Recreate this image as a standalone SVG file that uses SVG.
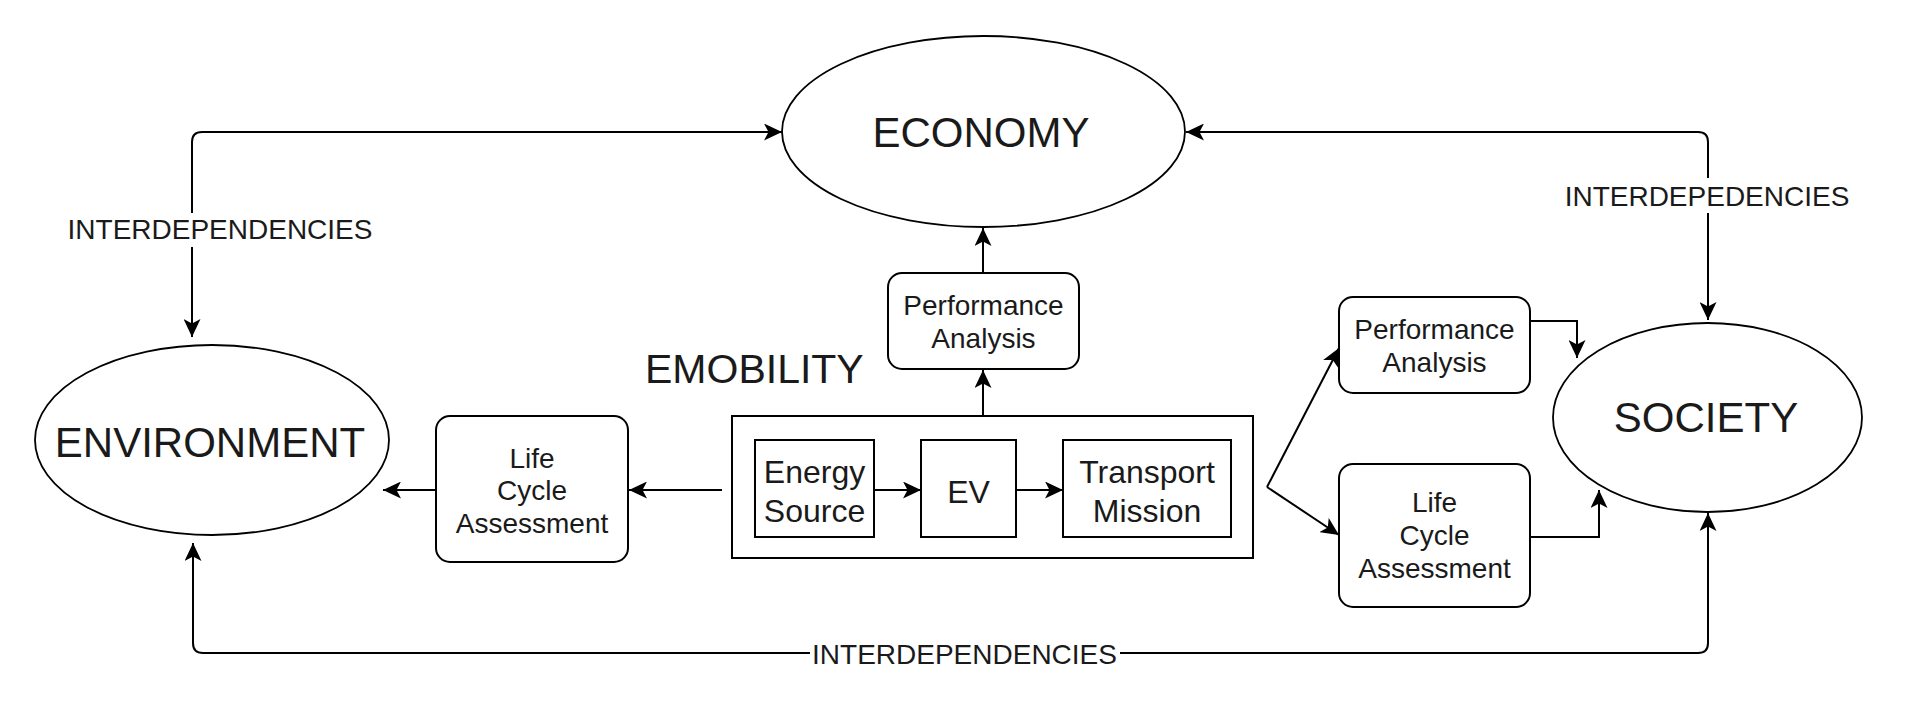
<svg xmlns="http://www.w3.org/2000/svg" width="1912" height="710" viewBox="0 0 1912 710">
<style>
  .shape { fill: #ffffff; stroke: #000000; stroke-width: 2; }
  .ell { fill: #ffffff; stroke: #000000; stroke-width: 1.8; }
  .edge { fill: none; stroke: #000000; stroke-width: 2; }
  text { font-family: "Liberation Sans", Arial, sans-serif; fill: #1a1a1a; text-anchor: middle; }
  .big { font-size: 42px; }
  .mid { font-size: 32px; }
  .sm { font-size: 28px; }
  .lblbg { fill: #ffffff; stroke: none; }
</style>
<defs>
  <marker id="arr" markerUnits="userSpaceOnUse" markerWidth="18" markerHeight="17" viewBox="0 0 18 17" refX="18" refY="8.5" orient="auto-start-reverse">
    <path d="M0,0 L18,8.5 L0,17 L4.5,8.5 Z" fill="#000000"/>
  </marker>
</defs>

<g id="economy">
  <ellipse class="ell" cx="983.5" cy="131.5" rx="201.5" ry="95.5"/>
  <text class="big" x="981" y="147">ECONOMY</text>
</g>

<g id="environment">
  <ellipse class="ell" cx="212" cy="440" rx="177" ry="95"/>
  <text class="big" x="210" y="457">ENVIRONMENT</text>
</g>

<g id="society">
  <ellipse class="ell" cx="1707.5" cy="417.5" rx="154.5" ry="94.5"/>
  <text class="big" x="1706" y="432">SOCIETY</text>
</g>

<g id="perf-top">
  <rect class="shape" x="888" y="273" width="191" height="96" rx="14"/>
  <text class="sm" x="983.5" y="315">Performance</text>
  <text class="sm" x="983.5" y="348">Analysis</text>
</g>

<g id="emobility-label">
  <text x="645" y="383" style="font-size:41px;text-anchor:start">EMOBILITY</text>
</g>

<g id="emobility">
  <rect class="shape" x="732" y="416" width="521" height="142"/>
</g>

<g id="energy-source">
  <rect class="shape" x="755" y="440" width="119" height="97"/>
  <text class="mid" x="814.5" y="483">Energy</text>
  <text class="mid" x="814.5" y="522">Source</text>
</g>

<g id="ev">
  <rect class="shape" x="921" y="440" width="95" height="97"/>
  <text class="mid" x="968.5" y="503">EV</text>
</g>

<g id="transport-mission">
  <rect class="shape" x="1063" y="440" width="168" height="97"/>
  <text class="mid" x="1147" y="483">Transport</text>
  <text class="mid" x="1147" y="522">Mission</text>
</g>

<g id="lca-left">
  <rect class="shape" x="436" y="416" width="192" height="146" rx="14"/>
  <text class="sm" x="532" y="468">Life</text>
  <text class="sm" x="532" y="500">Cycle</text>
  <text class="sm" x="532" y="533">Assessment</text>
</g>

<g id="perf-right">
  <rect class="shape" x="1339" y="297" width="191" height="96" rx="14"/>
  <text class="sm" x="1434.5" y="339">Performance</text>
  <text class="sm" x="1434.5" y="372">Analysis</text>
</g>

<g id="lca-right">
  <rect class="shape" x="1339" y="464" width="191" height="143" rx="14"/>
  <text class="sm" x="1434.5" y="512">Life</text>
  <text class="sm" x="1434.5" y="545">Cycle</text>
  <text class="sm" x="1434.5" y="578">Assessment</text>
</g>

<g id="connectors">
  <path class="edge" d="M 192 337 L 192 142 Q 192 132 202 132 L 782 132" marker-start="url(#arr)" marker-end="url(#arr)"/>
  <path class="edge" d="M 1186 132 L 1698 132 Q 1708 132 1708 142 L 1708 320" marker-start="url(#arr)" marker-end="url(#arr)"/>
  <path class="edge" d="M 193 543 L 193 643 Q 193 653 203 653 L 1698 653 Q 1708 653 1708 643 L 1708 513" marker-start="url(#arr)" marker-end="url(#arr)"/>
  <path class="edge" d="M 983 416 L 983 370" marker-end="url(#arr)"/>
  <path class="edge" d="M 983 273 L 983 228" marker-end="url(#arr)"/>
  <path class="edge" d="M 722 490 L 629 490" marker-end="url(#arr)"/>
  <path class="edge" d="M 436 490 L 383 490" marker-end="url(#arr)"/>
  <path class="edge" d="M 874 490 L 921 490" marker-end="url(#arr)"/>
  <path class="edge" d="M 1016 490 L 1063 490" marker-end="url(#arr)"/>
  <path class="edge" d="M 1267 487 L 1339 348" marker-end="url(#arr)"/>
  <path class="edge" d="M 1267 487 L 1339 535" marker-end="url(#arr)"/>
  <path class="edge" d="M 1530 321 L 1577 321 L 1577 358" marker-end="url(#arr)"/>
  <path class="edge" d="M 1530 537 L 1599 537 L 1599 490" marker-end="url(#arr)"/>
  <rect class="lblbg" x="64" y="213" width="312" height="34"/>
  <text class="sm" x="220" y="239">INTERDEPENDENCIES</text>
  <rect class="lblbg" x="1561" y="178" width="293" height="35"/>
  <text class="sm" x="1707" y="206">INTERDEPEDENCIES</text>
  <rect class="lblbg" x="810" y="638" width="310" height="30"/>
  <text class="sm" x="964.5" y="664">INTERDEPENDENCIES</text>
</g>
</svg>
